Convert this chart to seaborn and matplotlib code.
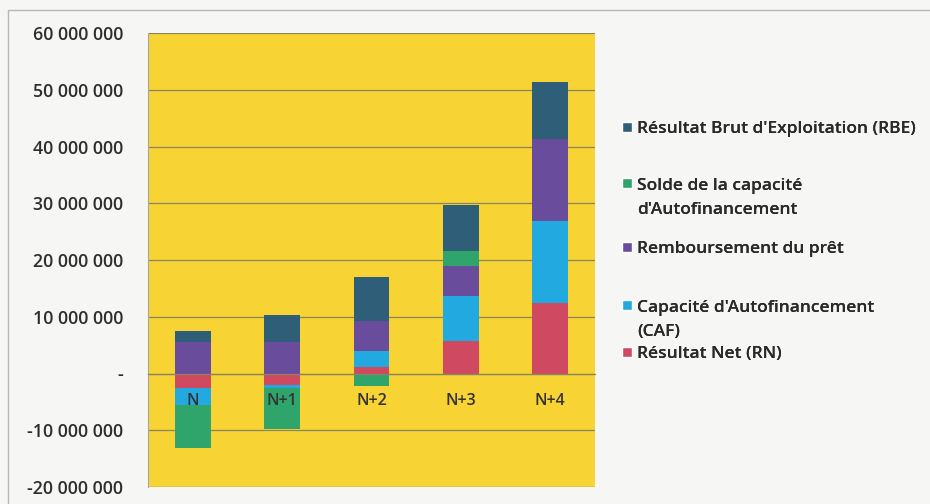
import numpy as np
import pandas as pd
import matplotlib
matplotlib.use("Agg")
import matplotlib.pyplot as plt
import matplotlib.ticker as mticker
from matplotlib.patches import Patch
import seaborn as sns

years = ["N", "N+1", "N+2", "N+3", "N+4"]

# values in euros, stacked in Excel series order (bottom first)
rn = [-2_600_000, -2_000_000, 1_200_000, 5_800_000, 12_400_000]
caf = [-2_900_000, -600_000, 2_800_000, 7_900_000, 14_400_000]
remb = [5_500_000, 5_600_000, 5_300_000, 5_300_000, 14_500_000]
solde = [-7_600_000, -7_200_000, -2_200_000, 2_500_000, 0]
rbe = [2_000_000, 4_700_000, 7_700_000, 8_200_000, 10_100_000]

series_names = [
    "Résultat Net (RN)",
    "Capacité d'Autofinancement\n(CAF)",
    "Remboursement du prêt",
    "Solde de la capacité\nd'Autofinancement",
    "Résultat Brut d'Exploitation (RBE)",
]
series_vals = [rn, caf, remb, solde, rbe]
colors = ["#CF4A60", "#22A9DF", "#6A4C9C", "#2FA56C", "#2F5E79"]

sns.set_style("white")
plt.rcParams["font.family"] = ["Open Sans", "DejaVu Sans"]

fig = plt.figure(figsize=(9.3, 5.04), dpi=100)
fig.patch.set_facecolor("#F6F6F4")
ax = fig.add_axes([148 / 930, 1 - 487 / 504, (595 - 148) / 930, (487 - 33) / 504])
ax.set_facecolor("#F7D333")

pos_base = np.zeros(len(years))
neg_base = np.zeros(len(years))
for name, vals, col in zip(series_names, series_vals, colors):
    v = np.array(vals, dtype=float)
    bottom = np.where(v >= 0, pos_base, neg_base)
    df = pd.DataFrame({"year": years, "val": v})
    sns.barplot(data=df, x="year", y="val", bottom=bottom, color=col,
                width=0.4, ax=ax, linewidth=0, saturation=1, zorder=2)
    pos_base = pos_base + np.clip(v, 0, None)
    neg_base = neg_base + np.clip(v, None, 0)

ax.set_ylim(-20_000_000, 60_000_000)
ax.set_xlim(-0.5, len(years) - 0.5)
ax.yaxis.set_major_locator(mticker.MultipleLocator(10_000_000))


def fmt(x, pos):
    if abs(x) < 1:
        return "-"
    return f"{x:,.0f}".replace(",", " ")


ax.yaxis.set_major_formatter(mticker.FuncFormatter(fmt))
ax.yaxis.grid(True, color="#8C8460", linewidth=0.9)
ax.set_axisbelow(True)
ax.xaxis.set_zorder(4)

for s in ["top", "right"]:
    ax.spines[s].set_visible(False)
ax.spines["left"].set_color("#A8A8A0")
ax.spines["bottom"].set_position(("data", 0))
ax.spines["bottom"].set_color("#8C8460")
ax.spines["bottom"].set_linewidth(0.9)
ax.set_xticks(np.arange(len(years)) + 0.5, minor=True)
ax.tick_params(axis="x", which="minor", length=4, color="#8C8460", direction="out")
ax.tick_params(axis="x", which="major", length=0, pad=14, labelsize=11.5,
               labelcolor="#333333")
ax.tick_params(axis="y", length=0, pad=18, labelsize=12.8, labelcolor="#2E2E2E")
for lab in ax.get_xticklabels() + ax.get_yticklabels():
    lab.set_fontweight("semibold")
ax.set_xlabel("")
ax.set_ylabel("")

# outer chart frame
fig.add_artist(plt.Line2D([8 / 930, 1], [1 - 10 / 504] * 2, color="#B8B8B8",
                          linewidth=1, transform=fig.transFigure))
fig.add_artist(plt.Line2D([8 / 930] * 2, [0, 1 - 10 / 504], color="#B8B8B8",
                          linewidth=1, transform=fig.transFigure))

# legend: one entry per box, placed like the Excel legend
entry_top = [346, 300, 241, 178, 121]  # pixel y of each entry's first line
for name, col, ytop in zip(series_names, colors, entry_top):
    leg = fig.legend(handles=[Patch(facecolor=col, label=name)], loc="upper left",
                     bbox_to_anchor=(622 / 930, 1 - ytop / 504), frameon=False,
                     fontsize=12.5, handlelength=0.55, handleheight=0.55,
                     handletextpad=0.3, borderpad=0, borderaxespad=0,
                     labelcolor="#2A2A2A")
    for t in leg.get_texts():
        t.set_fontweight("semibold")
        t.set_linespacing(1.65)
    # put the colour square next to the first line, as Excel does
    if "\n" in name:
        for col_box in leg._legend_handle_box.get_children():
            for item in col_box.get_children():
                item.align = "top"
    fig.add_artist(leg)

fig.savefig("out.png", dpi=100, facecolor=fig.get_facecolor())
